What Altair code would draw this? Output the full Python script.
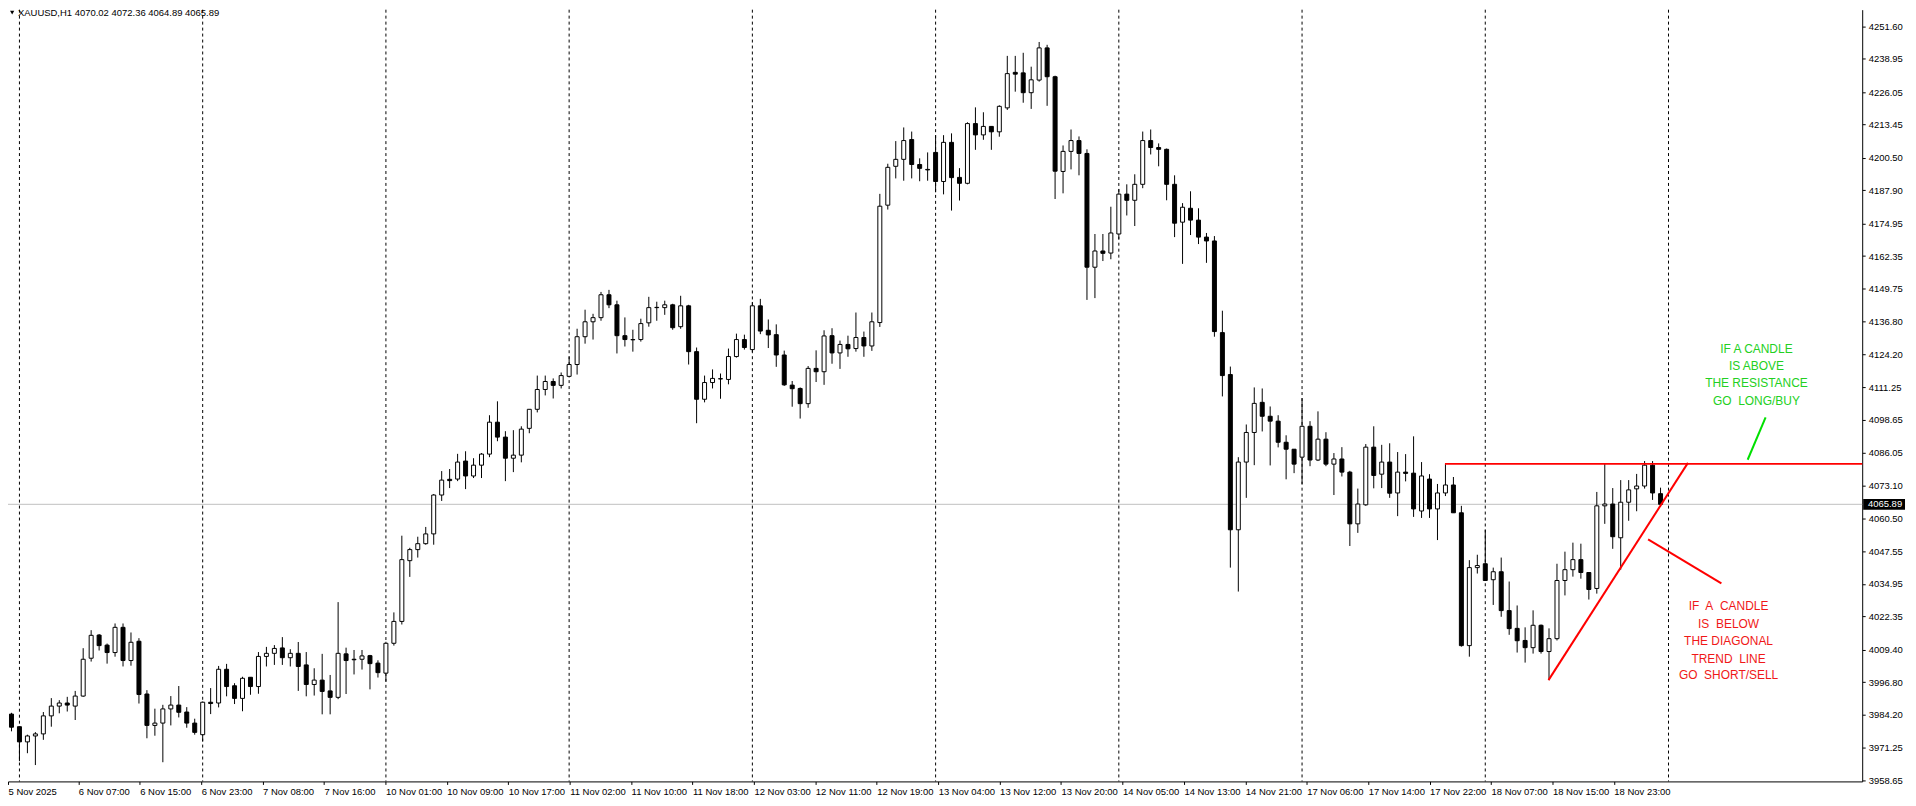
import altair as alt
import pandas as pd

# ---------------- data ----------------
opens = [
    3988.0, 3984.4, 3979.5, 3973.6, 3975.9, 3976.7, 3983.7, 3987.5, 3988.7, 3987.5,
    3991.4, 4006.1, 4015.1, 4011.2, 4008.3, 4018.1, 4005.2, 4012.7, 3992.2, 3980.0,
    3980.9, 3986.4, 3987.9, 3985.2, 3980.9, 3976.4, 3989.0, 3988.7, 4001.8, 3995.4,
    3990.5, 3998.7, 3995.1, 4006.8, 4008.0, 4010.1, 4006.3, 4008.0, 4003.5, 3995.9,
    3997.6, 3993.4, 3990.9, 4007.8, 4005.7, 4005.7, 4007.1, 4004.2, 4000.3, 4011.9,
    4020.4, 4044.0, 4048.3, 4050.6, 4054.4, 4069.5, 4075.6, 4075.7, 4082.7, 4076.9,
    4081.1, 4085.4, 4097.8, 4092.0, 4083.8, 4085.0, 4095.4, 4102.8, 4110.5, 4113.6,
    4112.1, 4115.6, 4120.2, 4131.0, 4136.8, 4138.4, 4147.3, 4143.4, 4131.4, 4129.9,
    4129.9, 4136.4, 4142.3, 4142.3, 4143.4, 4134.9, 4143.0, 4125.2, 4106.7, 4113.2,
    4114.7, 4114.4, 4123.3, 4129.9, 4126.0, 4143.0, 4133.5, 4131.8, 4123.9, 4112.2,
    4110.9, 4105.0, 4118.7, 4117.4, 4131.4, 4124.7, 4128.0, 4126.4, 4130.7, 4127.4,
    4136.5, 4182.1, 4197.2, 4199.9, 4207.6, 4197.9, 4196.0, 4202.6, 4191.3, 4206.5,
    4192.9, 4190.6, 4213.8, 4209.4, 4212.7, 4210.6, 4219.9, 4233.7, 4233.5, 4225.8,
    4230.7, 4243.2, 4232.0, 4195.2, 4203.0, 4207.2, 4202.2, 4158.0, 4164.3, 4163.5,
    4170.9, 4186.4, 4184.0, 4190.2, 4207.2, 4204.5, 4203.8, 4190.2, 4175.5, 4180.9,
    4176.3, 4169.7, 4168.2, 4132.6, 4116.3, 4056.0, 4082.3, 4093.8, 4105.5, 4100.1,
    4098.2, 4090.0, 4087.3, 4084.2, 4096.2, 4083.1, 4091.2, 4081.5, 4083.5, 4078.4,
    4058.3, 4065.7, 4088.1, 4077.6, 4082.3, 4070.3, 4078.4, 4078.0, 4063.3, 4075.7,
    4064.1, 4070.3, 4073.4, 4062.6, 4011.0, 4041.3, 4042.8, 4036.6, 4039.7, 4024.6,
    4017.7, 4013.0, 4010.2, 4018.9, 4008.7, 4013.7, 4036.3, 4040.5, 4044.4, 4039.4,
    4033.2, 4065.3, 4066.0, 4052.9, 4066.7, 4071.9, 4073.0, 4081.1, 4070.02,
]
highs = [
    3990.4, 3984.9, 3979.5, 3976.4, 3977.4, 3985.2, 3990.6, 3989.8, 3991.1, 3993.4,
    4010.0, 4017.0, 4015.5, 4011.8, 4019.6, 4019.6, 4016.1, 4013.9, 3993.7, 3986.5,
    3988.0, 3991.4, 3995.3, 3987.1, 3982.6, 3989.3, 3994.5, 4003.1, 4003.9, 3996.4,
    3998.9, 3998.7, 4008.5, 4010.5, 4011.2, 4014.3, 4009.6, 4012.4, 4008.5, 4002.2,
    4007.8, 3999.6, 4027.9, 4010.2, 4009.3, 4009.3, 4007.4, 4005.3, 4012.5, 4023.9,
    4053.7, 4049.0, 4053.3, 4057.1, 4069.9, 4078.8, 4079.6, 4085.5, 4086.5, 4083.8,
    4085.8, 4100.5, 4105.9, 4094.3, 4094.7, 4096.2, 4102.8, 4115.9, 4115.9, 4114.8,
    4117.1, 4123.3, 4134.1, 4141.5, 4139.9, 4148.4, 4149.2, 4145.0, 4138.5, 4133.7,
    4138.0, 4146.5, 4144.6, 4145.0, 4143.8, 4146.9, 4143.4, 4126.8, 4115.9, 4118.3,
    4116.7, 4126.4, 4132.2, 4131.8, 4144.5, 4145.7, 4137.7, 4135.8, 4125.6, 4113.8,
    4111.3, 4119.6, 4125.7, 4133.5, 4134.3, 4129.5, 4131.4, 4140.4, 4133.0, 4140.4,
    4186.5, 4198.2, 4207.0, 4212.3, 4210.7, 4200.3, 4202.6, 4209.3, 4209.3, 4210.0,
    4196.5, 4214.3, 4220.1, 4218.2, 4212.7, 4220.9, 4240.1, 4240.1, 4241.3, 4235.9,
    4245.5, 4244.4, 4232.4, 4205.3, 4211.5, 4208.8, 4203.8, 4170.9, 4170.9, 4181.5,
    4188.3, 4190.2, 4194.1, 4210.7, 4211.5, 4206.1, 4204.1, 4193.7, 4182.9, 4187.5,
    4180.9, 4171.3, 4170.1, 4141.1, 4119.4, 4084.2, 4096.9, 4111.3, 4110.9, 4103.9,
    4100.5, 4092.7, 4087.3, 4107.1, 4098.2, 4102.0, 4093.9, 4085.8, 4088.1, 4078.9,
    4072.0, 4089.3, 4096.2, 4089.0, 4089.6, 4086.2, 4085.4, 4092.3, 4082.3, 4077.6,
    4073.8, 4081.5, 4076.5, 4065.3, 4044.2, 4046.3, 4056.0, 4041.3, 4045.2, 4035.9,
    4026.6, 4018.1, 4024.7, 4019.2, 4017.7, 4042.8, 4047.5, 4051.0, 4050.6, 4039.4,
    4070.7, 4081.9, 4072.2, 4075.3, 4075.3, 4077.7, 4082.7, 4082.7, 4072.36,
]
lows = [
    3961.5, 3977.7, 3966.1, 3969.2, 3964.6, 3974.4, 3979.5, 3984.7, 3985.4, 3982.1,
    3991.1, 4004.8, 4009.1, 4004.0, 4006.7, 4002.9, 4003.2, 3988.5, 3975.0, 3976.0,
    3965.7, 3980.0, 3983.1, 3979.1, 3976.4, 3973.8, 3984.4, 3987.0, 3991.3, 3988.3,
    3985.5, 3991.9, 3992.3, 4002.9, 4003.5, 4003.5, 4002.9, 3993.4, 3991.3, 3991.6,
    3984.3, 3984.3, 3990.2, 3992.2, 3999.8, 4001.7, 3994.0, 3998.6, 3997.0, 4011.0,
    4019.2, 4037.7, 4045.2, 4050.2, 4050.2, 4067.2, 4072.2, 4074.9, 4071.8, 4076.1,
    4076.1, 4084.2, 4090.4, 4074.9, 4078.4, 4082.2, 4093.5, 4101.6, 4108.2, 4107.0,
    4110.9, 4115.2, 4116.3, 4128.3, 4129.9, 4137.2, 4142.1, 4124.5, 4127.2, 4125.2,
    4129.1, 4134.9, 4137.2, 4139.5, 4133.7, 4134.1, 4120.2, 4097.4, 4105.5, 4110.9,
    4106.9, 4112.5, 4122.9, 4126.0, 4125.0, 4132.0, 4126.6, 4119.3, 4111.9, 4103.8,
    4099.2, 4103.4, 4113.4, 4112.3, 4120.5, 4118.5, 4123.2, 4125.2, 4123.2, 4125.5,
    4134.8, 4180.4, 4192.5, 4191.6, 4192.5, 4191.4, 4191.6, 4187.1, 4186.3, 4180.0,
    4183.9, 4190.2, 4203.6, 4207.5, 4203.6, 4208.7, 4219.1, 4226.2, 4221.9, 4219.5,
    4230.1, 4220.7, 4184.5, 4186.7, 4196.0, 4193.7, 4145.3, 4146.0, 4160.4, 4161.1,
    4168.9, 4178.1, 4174.0, 4188.7, 4201.8, 4197.2, 4184.0, 4169.7, 4159.3, 4170.5,
    4167.0, 4159.7, 4131.0, 4107.8, 4041.3, 4032.0, 4068.4, 4081.1, 4094.2, 4081.0,
    4088.0, 4075.6, 4078.0, 4073.8, 4080.7, 4082.7, 4080.7, 4069.5, 4076.7, 4049.7,
    4054.8, 4065.3, 4072.1, 4072.2, 4068.4, 4061.3, 4074.8, 4061.0, 4060.6, 4060.6,
    4052.0, 4069.1, 4062.6, 4010.6, 4006.7, 4039.0, 4036.3, 4026.8, 4022.2, 4015.2,
    4008.3, 4004.4, 4007.9, 4007.9, 3997.6, 4013.0, 4030.5, 4037.8, 4037.0, 4028.9,
    4031.2, 4058.3, 4048.6, 4040.5, 4059.5, 4063.2, 4072.0, 4067.6, 4064.89,
]
closes = [
    3984.4, 3979.3, 3973.6, 3975.9, 3976.7, 3983.7, 3987.5, 3988.7, 3987.9, 3991.4,
    4005.7, 4015.0, 4011.0, 4008.3, 4018.1, 4005.2, 4012.3, 3992.0, 3980.0, 3980.9,
    3986.4, 3987.9, 3985.1, 3980.9, 3977.3, 3989.0, 3988.5, 4001.8, 3995.1, 3990.5,
    3998.3, 3995.1, 4006.8, 4008.0, 4009.9, 4006.3, 4008.0, 4002.9, 3995.9, 3997.6,
    3993.2, 3990.9, 4008.0, 4005.2, 4005.5, 4007.0, 4004.0, 4000.5, 4011.9, 4020.4,
    4044.4, 4048.3, 4050.6, 4054.4, 4069.5, 4075.3, 4075.1, 4082.3, 4076.9, 4081.1,
    4085.4, 4097.8, 4092.0, 4083.8, 4085.0, 4095.1, 4102.8, 4110.5, 4113.6, 4112.1,
    4115.9, 4120.2, 4131.0, 4136.8, 4138.4, 4147.3, 4143.4, 4131.4, 4129.9, 4129.8,
    4136.1, 4142.3, 4142.4, 4143.4, 4134.5, 4143.0, 4125.2, 4106.7, 4113.2, 4114.8,
    4114.6, 4123.3, 4129.9, 4126.8, 4143.0, 4133.2, 4131.7, 4123.9, 4112.3, 4110.8,
    4105.0, 4118.7, 4117.4, 4131.3, 4124.7, 4128.0, 4126.3, 4130.7, 4127.4, 4136.8,
    4181.7, 4196.8, 4199.9, 4207.2, 4197.9, 4196.4, 4195.8, 4191.3, 4206.5, 4192.8,
    4190.6, 4213.8, 4209.4, 4212.7, 4210.6, 4220.5, 4233.2, 4233.0, 4225.8, 4230.8,
    4243.2, 4232.0, 4195.3, 4203.0, 4207.2, 4202.2, 4158.0, 4164.3, 4163.4, 4171.3,
    4186.4, 4184.0, 4190.2, 4207.2, 4204.5, 4203.8, 4190.2, 4175.1, 4181.3, 4176.3,
    4169.7, 4168.2, 4133.0, 4115.9, 4056.0, 4082.3, 4093.8, 4105.1, 4100.1, 4098.2,
    4090.0, 4087.3, 4081.5, 4096.2, 4083.1, 4091.2, 4081.5, 4083.5, 4078.4, 4058.3,
    4066.0, 4088.1, 4077.1, 4082.3, 4070.2, 4078.4, 4077.9, 4064.1, 4076.9, 4064.1,
    4070.3, 4073.4, 4062.6, 4011.0, 4041.3, 4042.1, 4036.3, 4039.7, 4024.6, 4017.6,
    4012.9, 4010.2, 4018.9, 4008.7, 4013.7, 4036.3, 4040.5, 4044.4, 4039.4, 4032.8,
    4065.3, 4066.0, 4053.3, 4066.7, 4071.5, 4073.0, 4081.1, 4070.3, 4065.89,
]

price_ticks = [4251.60, 4238.95, 4226.05, 4213.45, 4200.50, 4187.90, 4174.95, 4162.35,
               4149.75, 4136.80, 4124.20, 4111.25, 4098.65, 4086.05, 4073.10, 4060.50,
               4047.55, 4034.95, 4022.35, 4009.40, 3996.80, 3984.20, 3971.25, 3958.65]

time_labels = ["5 Nov 2025", "6 Nov 07:00", "6 Nov 15:00", "6 Nov 23:00", "7 Nov 08:00",
               "7 Nov 16:00", "10 Nov 01:00", "10 Nov 09:00", "10 Nov 17:00", "11 Nov 02:00",
               "11 Nov 10:00", "11 Nov 18:00", "12 Nov 03:00", "12 Nov 11:00", "12 Nov 19:00",
               "13 Nov 04:00", "13 Nov 12:00", "13 Nov 20:00", "14 Nov 05:00", "14 Nov 13:00",
               "14 Nov 21:00", "17 Nov 06:00", "17 Nov 14:00", "17 Nov 22:00", "18 Nov 07:00",
               "18 Nov 15:00", "18 Nov 23:00"]

header_text = "XAUUSD,H1  4070.02 4072.36 4064.89 4065.89"
last_price = 4065.89
resistance_price = 4081.6

green_lines = ["IF A CANDLE", "IS ABOVE", "THE RESISTANCE", "GO\u00a0 LONG/BUY"]
red_lines = ["IF\u00a0 A\u00a0 CANDLE", "IS\u00a0 BELOW", "THE DIAGONAL", "TREND\u00a0 LINE",
             "GO\u00a0 SHORT/SELL"]

# ---------------- layout ----------------
W, H = 1862, 775
X_DOMAIN = [0.625, 233.375]
Y_DOMAIN = [3958.24, 4258.05]
FONT = "Liberation Sans"
NARROW = "Liberation Sans Narrow, Arial Narrow, Liberation Sans, sans-serif"
RED = "#ff0000"
GREEN = "#00e000"

xs = alt.Scale(domain=X_DOMAIN, nice=False, zero=False)
ys = alt.Scale(domain=Y_DOMAIN, nice=False, zero=False)

n = len(opens)
df = pd.DataFrame({"bar": list(range(n)), "open": opens, "high": highs,
                   "low": lows, "close": closes})

# time-scale label anchors (in bar units): first label at the left edge, then every ~7.71 bars
label_pos = [X_DOMAIN[0]] + [round(48 + (i - 6) * 7.71, 3) for i in range(1, len(time_labels))]
grid_bars = [2 + 23 * i for i in range(10)]

label_expr = ("[" + ",".join("'" + t + "'" for t in time_labels) + "][indexof(["
              + ",".join(repr(v) for v in label_pos) + "], datum.value)]")

x_axis = alt.Axis(orient="bottom", values=label_pos, labelExpr=label_expr, labelAlign="left",
                  labelFont=FONT, labelFontSize=9.5, labelColor="black", tickColor="black",
                  tickSize=3, domainColor="black", domainWidth=1, grid=False, title=None,
                  labelOverlap=False, labelFlush=False, labelPadding=2)
y_axis = alt.Axis(orient="right", values=price_ticks, format=".2f", labelFont=FONT,
                  labelFontSize=9.5, labelColor="black", tickColor="black", tickSize=3,
                  domainColor="black", domainWidth=1, grid=False, title=None,
                  labelOverlap=False, labelFlush=False, labelPadding=3)


def X(field):
    return alt.X(field, scale=xs, axis=x_axis)


def Y(field):
    return alt.Y(field, scale=ys, axis=y_axis)


base = alt.Chart(df)

grid = alt.Chart(pd.DataFrame({"bar": grid_bars})).mark_rule(
    color="black", strokeWidth=1, strokeDash=[3, 3], xOffset=0.5
).encode(x=X("bar:Q"))

price_line = alt.Chart(pd.DataFrame({"p": [last_price]})).mark_rule(
    color="#c0c0c0", strokeWidth=1
).encode(y=Y("p:Q"))

wicks = base.mark_rule(color="black", strokeWidth=1, xOffset=0.5).encode(
    x=X("bar:Q"), y=Y("low:Q"), y2="high:Q",
)

bodies = base.transform_calculate(
    xa="datum.bar - 0.25", xb="datum.bar + 0.25"
).mark_rect(stroke="black", strokeWidth=1, xOffset=0.5, x2Offset=0.5).encode(
    x=X("xa:Q"), x2="xb:Q",
    y=Y("open:Q"), y2="close:Q",
    fill=alt.condition("datum.close >= datum.open", alt.value("white"), alt.value("black")),
)

seg_df = pd.DataFrame({
    "x": [181.0, 194.0, 206.5, 219.0],
    "x2": [X_DOMAIN[1], 211.5, 215.7, 221.25],
    "y": [resistance_price, 3997.6, 4052.3, 4083.2],
    "y2": [resistance_price, 4082.0, 4035.2, 4099.7],
    "c": [RED, RED, RED, GREEN],
})
segments = alt.Chart(seg_df).mark_rule(strokeWidth=2).encode(
    x=X("x:Q"), x2="x2:Q", y=Y("y:Q"), y2="y2:Q",
    color=alt.Color("c:N", scale=None),
)

txt_df = pd.DataFrame({
    "x": [220.1] * len(green_lines) + [216.6] * len(red_lines),
    "y": [4126.4, 4119.7, 4113.1, 4106.1, 4026.4, 4019.5, 4012.8, 4005.8, 3999.4],
    "t": green_lines + red_lines,
    "c": ["#22d022"] * len(green_lines) + ["#f01818"] * len(red_lines),
})
texts = alt.Chart(txt_df).mark_text(font=NARROW, fontSize=12, align="center",
                                    baseline="middle").encode(
    x=X("x:Q"), y=Y("y:Q"), text="t:N",
    color=alt.Color("c:N", scale=None),
)

box = alt.Chart(pd.DataFrame({"x": [233.5], "x2": [238.75],
                              "y": [last_price - 2.1], "y2": [last_price + 2.1]})).mark_rect(
    color="black").encode(x=X("x:Q"), x2="x2:Q", y=Y("y:Q"), y2="y2:Q")
box_text = alt.Chart(pd.DataFrame({"x": [234.1], "y": [last_price],
                                   "t": [f"{last_price:.2f}"]})).mark_text(
    font=FONT, fontSize=9.5, align="left", baseline="middle", color="white").encode(
    x=X("x:Q"), y=Y("y:Q"), text="t:N")

header = alt.Chart(pd.DataFrame({"x": [1.875], "y": [4256.9], "t": [header_text]})).mark_text(
    font=FONT, fontSize=9.5, align="left", baseline="middle", color="black").encode(
    x=X("x:Q"), y=Y("y:Q"), text="t:N")
tri = alt.Chart(pd.DataFrame({"x": [1.15], "y": [4256.9]})).mark_point(
    shape="triangle-down", filled=True, color="black", size=18, opacity=1).encode(
    x=X("x:Q"), y=Y("y:Q"))

chart = alt.layer(
    grid, price_line, wicks, bodies, segments, texts, box, box_text, header, tri
).properties(
    width=W, height=H,
    padding={"left": 0, "top": 0, "right": 46, "bottom": 23},
    autosize=alt.AutoSizeParams(type="none"),
    background="white",
).configure_view(stroke=None)

chart.save("out.html", embed_options={"renderer": "svg", "actions": False})
